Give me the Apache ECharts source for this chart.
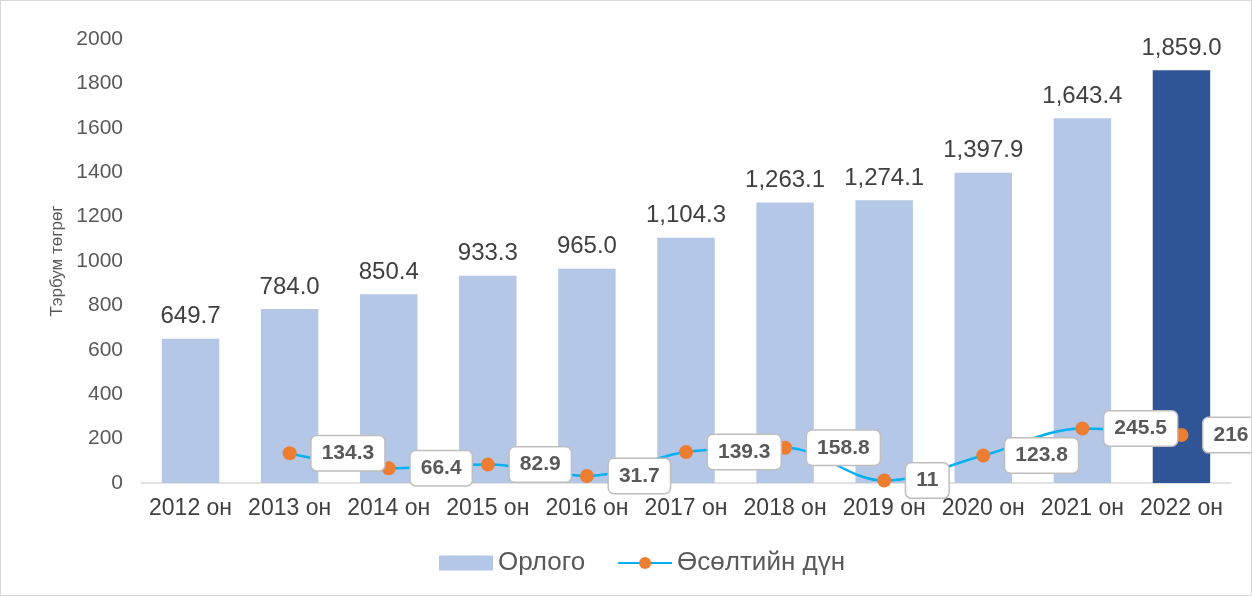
<!DOCTYPE html>
<html>
<head>
<meta charset="utf-8">
<script src="https://cdn.jsdelivr.net/npm/echarts@6/dist/echarts.min.js"></script>
<style>
  html, body { margin: 0; padding: 0; background: #fff; }
  #main { width: 1250px; height: 594px; border: 1px solid #d9d9d9; }
</style>
</head>
<body>
<div id="main"></div>
<script>
var years = ['2012 он', '2013 он', '2014 он', '2015 он', '2016 он', '2017 он', '2018 он', '2019 он', '2020 он', '2021 он', '2022 он'];
var income = [649.7, 784.0, 850.4, 933.3, 965.0, 1104.3, 1263.1, 1274.1, 1397.9, 1643.4, 1859.0];
var growth = [null, 134.3, 66.4, 82.9, 31.7, 139.3, 158.8, 11, 123.8, 245.5, 216];
var yTicks = { min: 0, max: 2000, interval: 200 };

var chart = echarts.init(document.getElementById('main'));

// last bar is highlighted in dark blue
var barData = income.map(function (v, i) {
    return {
        value: v,
        itemStyle: { color: i === income.length - 1 ? '#2f5597' : '#b4c7e7' }
    };
});

var option = {
    animation: false,
    textStyle: { fontFamily: 'Liberation Sans, Arial, sans-serif' },
    grid: { left: 140, right: 20, top: 38, bottom: 112 },
    legend: {
        left: 433,
        bottom: 14,
        itemGap: 32,
        itemWidth: 54,
        itemHeight: 15,
        textStyle: { fontSize: 26, color: '#595959' },
        data: [
            { name: 'Орлого', icon: 'rect', itemStyle: { color: '#b4c7e7' } },
            { name: 'Өсөлтийн дүн' }
        ]
    },
    xAxis: {
        type: 'category',
        data: years,
        axisLine: { lineStyle: { color: '#d9d9d9', width: 1.5 } },
        axisTick: { show: false },
        axisLabel: { interval: 0, fontSize: 23, color: '#404040', margin: 14 }
    },
    yAxis: {
        type: 'value',
        min: yTicks.min,
        max: yTicks.max,
        interval: yTicks.interval,
        name: 'Тэрбум төгрөг',
        nameLocation: 'middle',
        nameRotate: 90,
        nameGap: 70,
        nameTextStyle: { fontSize: 17, color: '#595959' },
        splitLine: { show: false },
        axisLine: { show: false },
        axisTick: { show: false },
        axisLabel: {
            fontSize: 21, color: '#595959', margin: 18,
            formatter: function (v) { return String(v); }
        }
    },
    series: [
        {
            name: 'Орлого',
            type: 'bar',
            barWidth: '58%',
            data: barData,
            label: {
                show: true,
                position: 'top',
                distance: 10,
                fontSize: 24,
                color: '#404040',
                formatter: function (p) {
                    return p.value.toLocaleString('en-US', { minimumFractionDigits: 1, maximumFractionDigits: 1 });
                }
            }
        },
        {
            name: 'Өсөлтийн дүн',
            type: 'line',
            smooth: 0.35,
            data: growth,
            symbol: 'circle',
            symbolSize: 14,
            itemStyle: { color: '#ed7d31' },
            lineStyle: { color: '#00b0f0', width: 2.5 },
            label: {
                show: true,
                position: 'right',
                distance: 15,
                fontSize: 21,
                fontWeight: 'bold',
                color: '#595959',
                backgroundColor: '#fff',
                borderColor: '#bfbfbf',
                borderWidth: 1.5,
                borderRadius: 5,
                padding: [7, 10, 6, 10]
            },
            z: 5
        }
    ]
};

chart.setOption(option);
</script>
</body>
</html>
